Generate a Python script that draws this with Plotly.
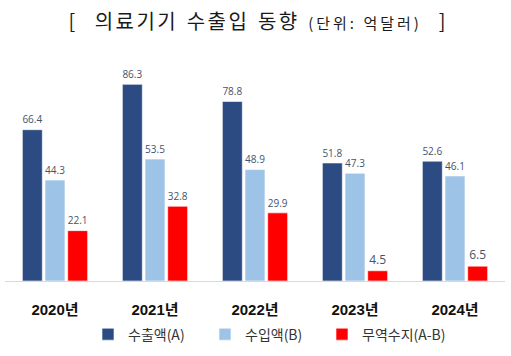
import plotly.graph_objects as go

years = ["2020년", "2021년", "2022년", "2023년", "2024년"]
exports = [66.4, 86.3, 78.8, 51.8, 52.6]
imports = [44.3, 53.5, 48.9, 47.3, 46.1]
balance = [22.1, 32.8, 29.9, 4.5, 6.5]

series = [
    ("수출액(A)", exports, "#2B4B82", 72),
    ("수입액(B)", imports, "#9DC3E6", 72),
    ("무역수지(A-B)", balance, "#FF0000", 100),
]

fig = go.Figure()
for name, vals, color, lw in series:
    fig.add_trace(go.Bar(
        x=years, y=vals, name=name, legendwidth=lw,
        marker=dict(color=color, line=dict(color="rgba(255,255,255,0.6)", width=1)),
        text=[f"{v:.1f}" for v in vals], textposition="outside",
        textfont=dict(family="Open Sans, Noto Sans CJK KR", size=12, color="#44546A"),
        cliponaxis=False,
    ))

gap = "<span style='letter-spacing:4px'>&nbsp;</span>"
title_text = (
    f"<span style='letter-spacing:2.5px'>[</span>{gap}{gap}"
    f"<span style='letter-spacing:2.5px'>의료기기</span>{gap}"
    f"<span style='letter-spacing:2.5px'>수출입</span>{gap}"
    f"<span style='letter-spacing:2.5px'>동향</span>{gap}"
    f"<span style='font-size:15px;letter-spacing:3px'>(단위:&nbsp;억달러)</span>"
    f"{gap}{gap}<span>]</span>"
)

fig.update_layout(
    width=511, height=356,
    margin=dict(l=5, r=6, t=57, b=69),
    paper_bgcolor="white", plot_bgcolor="white",
    barmode="group", bargap=0.32, bargroupgap=0.12,
    title=dict(
        text=title_text,
        x=257 / 511, xanchor="center", y=1 - 22 / 356, yanchor="middle",
        font=dict(family="Noto Sans CJK KR", size=20, color="#1A1A1A"),
    ),
    showlegend=True,
    legend=dict(
        orientation="h", x=(88 - 5) / 500, xanchor="left", y=(287 - 342) / 230, yanchor="middle",
        font=dict(family="Noto Sans CJK KR", size=14, color="#333333"),
        itemwidth=30, traceorder="normal",
    ),
    xaxis=dict(
        showline=True, linecolor="#D9D9D9", linewidth=1,
        ticks="", showgrid=False,
        tickfont=dict(family="Liberation Sans, Noto Sans CJK KR", size=15, color="#111111", weight="bold"),
        ticklabelstandoff=15,
    ),
    yaxis=dict(range=[0, 98.3], visible=False, showgrid=False),
)

fig.write_html(
    "out.html",
    config={"displayModeBar": False},
    post_script="document.body.style.margin='0px';",
)
